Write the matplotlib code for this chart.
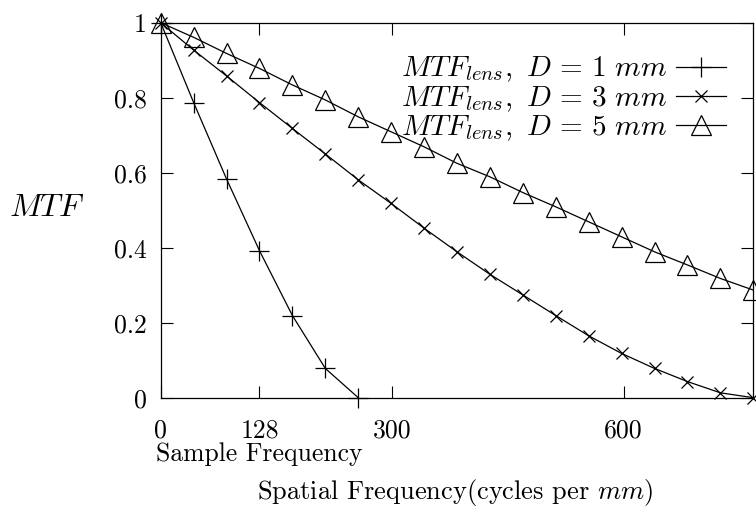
import matplotlib
matplotlib.use("Agg")
import matplotlib.pyplot as plt
import matplotlib.transforms as mtransforms

# ---- data ----
step = 256 / 6.0
x_d1 = [k * step for k in range(7)]
mtf_d1 = [1.0, 0.787, 0.583, 0.392, 0.219, 0.078, 0.0]

x_d3 = [k * step for k in range(19)]
mtf_d3 = [1.0, 0.927, 0.858, 0.787, 0.718, 0.650, 0.581, 0.518, 0.452,
          0.389, 0.329, 0.274, 0.219, 0.165, 0.118, 0.078, 0.043, 0.013, 0.0]

x_d5 = [k * step for k in range(19)]
mtf_d5 = [1.0, 0.961, 0.918, 0.878, 0.834, 0.794, 0.749, 0.709, 0.669,
          0.625, 0.589, 0.547, 0.509, 0.469, 0.429, 0.389, 0.354, 0.318, 0.287]

xticks = [0, 128, 300, 600]
xtick_labels = ["0", "128", "300", "600"]
sample_freq = 128
sample_label = "Sample Frequency"
yticks = [0, 0.2, 0.4, 0.6, 0.8, 1.0]
ytick_labels = ["0", "0.2", "0.4", "0.6", "0.8", "1"]
labels = [r"$MTF_{lens},\ D\,=\,1\ mm$", r"$MTF_{lens},\ D\,=\,3\ mm$",
          r"$MTF_{lens},\ D\,=\,5\ mm$"]

plt.rcParams["mathtext.fontset"] = "cm"
plt.rcParams["font.family"] = ["cmr10", "DejaVu Serif"]
plt.rcParams["axes.formatter.use_mathtext"] = True

fig = plt.figure(figsize=(7.56, 5.09), dpi=100)
ax = fig.add_axes([0.2126, 0.2187, 0.9964 - 0.2126, 0.9554 - 0.2187])

lw = 0.9
ax.plot(x_d1, mtf_d1, color="black", lw=lw, marker="+", ms=14, mew=0.9,
        label=labels[0], clip_on=False)
ax.plot(x_d3, mtf_d3, color="black", lw=lw, marker="x", ms=9, mew=0.9,
        label=labels[1], clip_on=False)
ax.plot(x_d5, mtf_d5, color="black", lw=lw, marker="^", ms=14, mew=0.9,
        mfc="none", mec="black", label=labels[2], clip_on=False)

ax.set_xlim(0, 768)
ax.set_ylim(0, 1)
ax.set_xticks(xticks)
ax.set_xticklabels(xtick_labels, fontsize=18.5)
ax.set_yticks(yticks)
ax.set_yticklabels(ytick_labels, fontsize=18.5)
ax.tick_params(direction="in", length=8.5, width=0.8, top=True, right=True)
ax.tick_params(axis="x", pad=15)
ax.tick_params(axis="y", pad=10)
for s in ax.spines.values():
    s.set_linewidth(0.9)

# "Sample Frequency" centred under the 128 tick
trans = mtransforms.blended_transform_factory(ax.transData, fig.transFigure)
ax.text(sample_freq, 1 - 454 / 509, sample_label, transform=trans,
        fontsize=18.5, ha="center", va="center")

fig.text(47 / 756, 1 - 208 / 509, r"$MTF$", fontsize=23, ha="center", va="center")
fig.text(455 / 756, 1 - 492 / 509, r"Spatial Frequency(cycles per $mm$)",
         fontsize=19, ha="center", va="center")

leg = ax.legend(loc="upper right", bbox_to_anchor=(726 / 756, 1 - 55 / 509),
                bbox_transform=fig.transFigure, frameon=False, markerfirst=False,
                fontsize=21, handlelength=1.7, handletextpad=0.3,
                labelspacing=0.0, borderpad=0, borderaxespad=0)

fig.savefig("out.png", dpi=100)
